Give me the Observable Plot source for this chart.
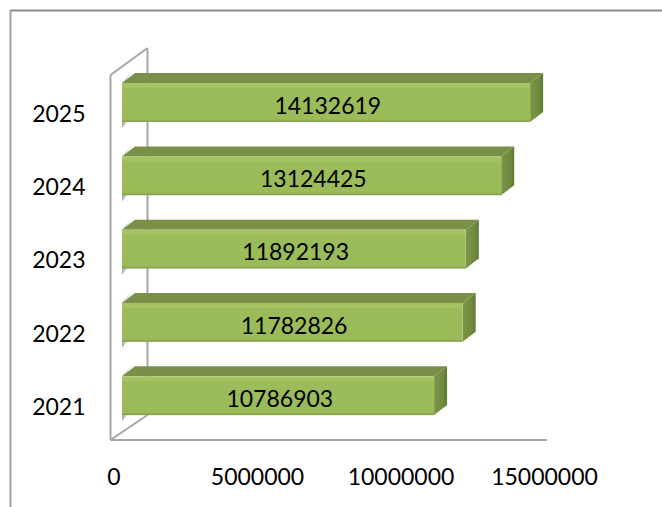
<!DOCTYPE html>
<html><head><meta charset="utf-8">
<style>html,body{margin:0;padding:0;background:#fff}svg{display:block}</style>
<script src="https://cdn.jsdelivr.net/npm/d3@7"></script>
<script src="https://cdn.jsdelivr.net/npm/@observablehq/plot@0.6"></script>
</head><body><div id="c"></div>
<script>
const years = ["2025","2024","2023","2022","2021"];
const values = [14132619,13124425,11892193,11782826,10786903];
const xTicks = [0,5000000,10000000,15000000];
const rows = years.map((year,i)=>({year,value:values[i]}));

const liftY = -11.5, depthX = 13, depthY = 10;

function walls(index, scales, channels, dim){
  const g = d3.create("svg:g");
  const x0 = scales.x(0) - 14, xb = x0 + 37;
  const yTop = 75, yBot = 440, yBackTop = 48, yBackBot = 415;
  const line = (a,b,c,d,w=2,col="#a6a6a6") => g.append("line").attr("x1",a).attr("y1",b).attr("x2",c).attr("y2",d).attr("stroke",col).attr("stroke-width",w);
  line(10,10.5,dim.width,10.5,2,"#8c8c8c");
  line(10.5,10,10.5,dim.height,2,"#a0a0a0");
  line(xb,yBackTop,xb,yBackBot);
  line(x0,yTop,xb,yBackTop);
  line(x0,yBot,xb,yBackBot);
  line(x0,yTop,x0,yBot);
  line(x0,yBot,547,yBot);
  return g.node();
}

function bars3d(index, scales, channels){
  const g = d3.create("svg:g").style("filter","blur(0.6px)");
  const defs = g.append("defs");
  const grad = (id,stops,h) => {
    const l = defs.append("linearGradient").attr("id",id).attr("x1",0).attr("y1",0).attr("x2",h?1:0).attr("y2",h?0:1);
    stops.forEach(([o,c,a])=>l.append("stop").attr("offset",o).attr("stop-color",c).attr("stop-opacity",a??1));
  };
  grad("barFront",[[0,"#a6c463"],[0.09,"#a6c463"],[0.14,"#9cbc5b"],[0.93,"#9bbb59"],[1,"#7f9a48"]],false);
  grad("barSide",[[0,"#7b9647"],[0.7,"#6f8a3e"],[1,"#5f7833"]],true);
  grad("barShadow",[[0,"#8f8f8f",0.8],[1,"#ffffff",0]],true);
  const bwv = scales.y.bandwidth;
  const bw = typeof bwv === "function" ? bwv() : bwv;
  for (const i of index) {
    const d = rows[i];
    const xa = scales.x(0) - 2.5, xe = scales.x(d.value);
    const t = scales.y(d.year) + liftY, b = t + bw;
    const poly = (pts,fill) => g.append("polygon").attr("points",pts.map(p=>p.join(",")).join(" ")).attr("fill",fill);
    poly([[xa,t],[xa+depthX,t-depthY-6],[xa+depthX,t-depthY],[xa,t]],"url(#barShadow)");
    poly([[xa,b],[xa+depthX,b-depthY],[xa+depthX,b-depthY-2],[xa,b-4]],"url(#barShadow)");
    poly([[xa,b],[xa+depthX,b-depthY+1],[xa,b+6]],"url(#barShadow)");
    poly([[xa,t],[xa+depthX,t-depthY],[xe+depthX,t-depthY],[xe,t]],"#7a9048");
    poly([[xe,t],[xe+depthX,t-depthY],[xe+depthX,b-depthY],[xe,b]],"url(#barSide)");
    g.append("rect").attr("x",xa).attr("y",t).attr("width",xe-xa).attr("height",bw).attr("fill","url(#barFront)");
  }
  return g.node();
}

const chart = Plot.plot({
  width: 662, height: 507,
  marginLeft: 88, marginRight: 0, marginTop: 0, marginBottom: 44,
  style: {background:"#fff", fontFamily:"Lato, sans-serif", color:"#000"},
  x: {domain:[0,15000000], range:[124.5,555]},
  y: {type:"band", domain:years, range:[77.35,443.85], paddingInner:0.47, paddingOuter:0.235, round:false},
  marks: [
    walls,
    Plot.barX(rows,{x:"value",y:"year",fillOpacity:0,render:(index,scales,vals,dim,ctx)=>bars3d(index,scales,vals)}),
    Plot.text(rows,{x:d=>d.value/2,y:"year",text:d=>String(d.value),dy:-8,dx:0,fontSize:23,fill:"#000"}),
    Plot.axisY({tickSize:0,tickPadding:3,label:null,fontSize:23,fill:"#000"}),
    Plot.axisX(xTicks,{tickSize:0,tickPadding:0,dy:5,dx:-11,label:null,fontSize:23,fill:"#000",tickFormat:d=>String(d)})
  ]
});
document.getElementById("c").append(chart);
</script></body></html>
